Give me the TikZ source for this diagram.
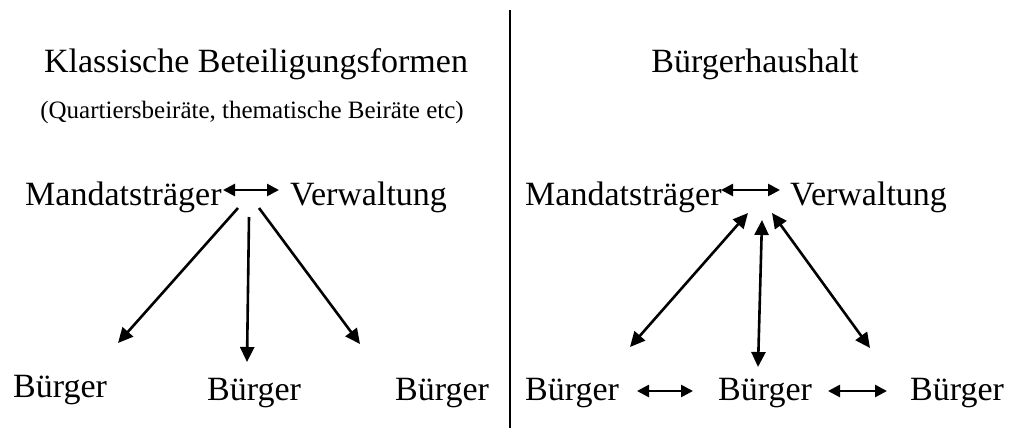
\documentclass[tikz,border=0pt]{standalone}
\usepackage{fontspec}
\setmainfont{Liberation Serif}
\usetikzlibrary{arrows.meta}
\begin{document}
\begin{tikzpicture}[x=1pt,y=-1pt,
  lbl/.style={anchor=base west,inner sep=0pt,font=\fontsize{34}{40}\selectfont},
  ttl/.style={anchor=base,inner sep=0pt,font=\fontsize{34}{40}\selectfont},
  sub/.style={anchor=base,inner sep=0pt,font=\fontsize{25}{30}\selectfont},
  tip/.tip={Triangle[length=15pt,width=14pt]},
  small tip/.tip={Triangle[length=12pt,width=12pt]},
  oneway/.style={line width=2.6pt,-tip},
  twoway/.style={line width=2.6pt,tip-tip},
  sideway/.style={line width=2.6pt,small tip-small tip},
]
\useasboundingbox (0,0) rectangle (1014,428);

% divider between the two halves
\coordinate (divtop) at (510,10);
\coordinate (divbot) at (510,428);
\draw[line width=2.8pt] (divtop) -- (divbot);

% ---- left half: classic participation ----
\node[ttl] (titleL) at (256,72) {Klassische Beteiligungsformen};
\node[sub] (subL) at (252,118) {(Quartiersbeiräte, thematische Beiräte etc)};

\node[lbl] (mL) at (25,205) {Mandatsträger};
\node[lbl] (vL) at (290,205) {Verwaltung};
\coordinate (mLa) at (223,190);
\coordinate (vLa) at (279,190);
\draw[sideway] (mLa) -- (vLa);

\node[lbl] (bL1) at (13,397) {Bürger};
\node[lbl] (bL2) at (207,400) {Bürger};
\node[lbl] (bL3) at (395,400) {Bürger};

\coordinate (sL1) at (238,208);
\coordinate (sL2) at (249,217);
\coordinate (sL3) at (259,208);
\coordinate (eL1) at (118,343);
\coordinate (eL2) at (247,362);
\coordinate (eL3) at (360,344);
\draw[oneway] (sL1) -- (eL1);
\draw[oneway] (sL2) -- (eL2);
\draw[oneway] (sL3) -- (eL3);

% ---- right half: participatory budget ----
\node[ttl] (titleR) at (755,72) {Bürgerhaushalt};

\node[lbl] (mR) at (525,205) {Mandatsträger};
\node[lbl] (vR) at (790,205) {Verwaltung};
\coordinate (mRa) at (721,190);
\coordinate (vRa) at (780,190);
\draw[sideway] (mRa) -- (vRa);

\node[lbl] (bR1) at (525,400) {Bürger};
\node[lbl] (bR2) at (718,400) {Bürger};
\node[lbl] (bR3) at (910,400) {Bürger};

\coordinate (sR1) at (748,213);
\coordinate (sR2) at (762,220);
\coordinate (sR3) at (772,213);
\coordinate (eR1) at (630,347);
\coordinate (eR2) at (758,367);
\coordinate (eR3) at (870,348);
\draw[twoway] (sR1) -- (eR1);
\draw[twoway] (sR2) -- (eR2);
\draw[twoway] (sR3) -- (eR3);

\coordinate (bR1a) at (637,391);
\coordinate (bR2a) at (693,391);
\coordinate (bR2b) at (828,391);
\coordinate (bR3a) at (887,391);
\draw[sideway] (bR1a) -- (bR2a);
\draw[sideway] (bR2b) -- (bR3a);
\end{tikzpicture}
\end{document}
